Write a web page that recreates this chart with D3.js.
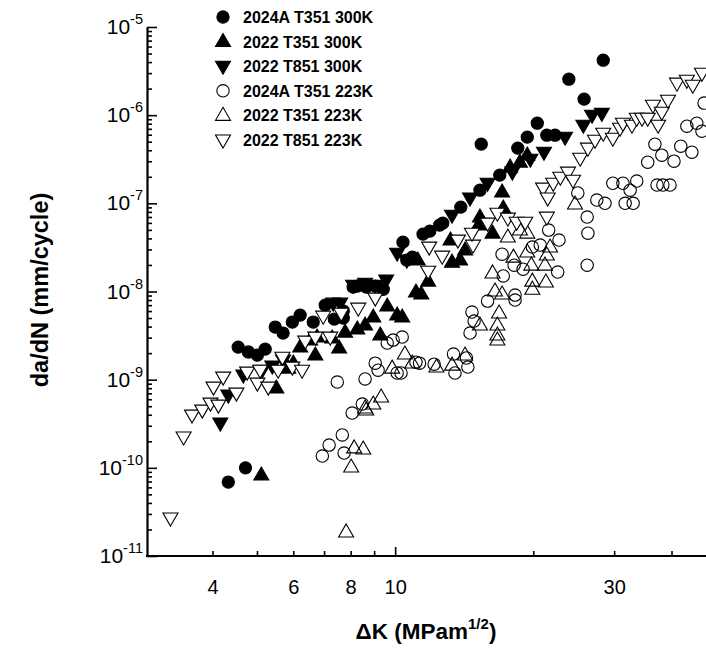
<!DOCTYPE html>
<html>
<head>
<meta charset="utf-8">
<script src="https://cdn.jsdelivr.net/npm/d3@7"></script>
<style>
  html, body { margin: 0; padding: 0; background: #fff; }
  svg { display: block; font-family: "Liberation Sans", Arial, sans-serif; }
</style>
</head>
<body>
<svg id="chart"></svg>
<script>
// da/dN vs dK, log-log. values: [dK, da/dN]
const al2024T351_300K = [
  [4.33, 6.9e-11], [4.72, 1.0e-10], [4.55, 2.34e-9], [4.79, 2.06e-9], [5.01, 1.90e-9],
  [5.21, 2.22e-9], [5.48, 3.95e-9], [5.70, 3.38e-9], [5.97, 4.50e-9], [6.21, 5.40e-9],
  [6.63, 4.50e-9], [7.04, 7.01e-9], [7.37, 4.86e-9], [7.71, 4.99e-9], [7.71, 6.0e-9],
  [8.10, 1.12e-8], [8.27, 1.15e-8], [8.65, 1.12e-8], [9.05, 1.15e-8], [9.42, 1.06e-8],
  [10.4, 3.63e-8], [10.6, 2.27e-8], [10.9, 2.45e-8], [11.5, 4.48e-8], [11.9, 4.84e-8],
  [12.5, 5.66e-8], [12.7, 5.97e-8], [13.9, 9.06e-8], [15.3, 1.41e-7], [16.9, 2.09e-7],
  [18.5, 4.23e-7], [19.4, 5.63e-7], [20.4, 8.11e-7], [21.4, 5.93e-7], [22.3, 5.93e-7],
  [15.4, 4.69e-7], [23.9, 2.56e-6], [25.8, 1.52e-6], [28.4, 4.2e-6]
];
const al2022T351_300K = [
  [5.11, 8.28e-11], [5.51, 8.03e-10], [5.85, 1.35e-9], [6.00, 1.54e-9], [6.21, 2.34e-9],
  [6.53, 2.81e-9], [6.70, 1.90e-9], [6.76, 3.04e-9], [7.29, 2.96e-9], [7.55, 2.28e-9],
  [7.78, 3.46e-9], [8.27, 3.75e-9], [8.60, 4.16e-9], [8.96, 5.13e-9], [9.28, 3.2e-9],
  [9.61, 6.83e-9], [10.1, 5.40e-9], [10.36, 5.13e-9], [11.1, 9.85e-9], [11.4, 9.35e-9],
  [11.8, 1.31e-8], [11.2, 2.27e-8], [13.2, 3.83e-8], [13.3, 2.15e-8], [13.85, 2.27e-8],
  [14.2, 2.95e-8], [15.2, 5.66e-8], [15.3, 6.98e-8], [16.3, 4.59e-8], [17.2, 8.83e-8],
  [17.1, 1.34e-7], [17.8, 2.57e-7], [19.4, 3.52e-7], [18.7, 2.93e-7]
];
const al2022T851_300K = [
  [4.16, 3.22e-10], [4.33, 6.69e-10], [4.67, 1.13e-9], [5.13, 1.28e-9], [5.40, 1.43e-9],
  [5.70, 1.67e-9], [7.33, 7.39e-9], [7.59, 7.39e-9], [8.10, 1.18e-8], [8.60, 1.24e-8],
  [9.05, 1.18e-8], [9.56, 1.35e-8], [10.1, 2.72e-8], [10.6, 2.27e-8], [13.3, 7.35e-8],
  [14.56, 1.15e-7], [15.9, 1.69e-7], [18.0, 2.26e-7], [19.7, 3.17e-7], [21.1, 3.8e-7],
  [23.45, 5.63e-7], [25.7, 7.7e-7], [26.85, 1.0e-6], [28.2, 1.05e-6]
];
const al2024T351_223K = [
  [6.94, 1.36e-10], [7.18, 1.81e-10], [7.67, 2.36e-10], [7.74, 1.47e-10], [7.48, 9.4e-10],
  [8.06, 4.18e-10], [8.48, 5.29e-10], [8.60, 1.02e-9], [9.05, 1.54e-9], [9.18, 1.28e-9],
  [9.61, 2.6e-9], [9.90, 2.81e-9], [10.36, 3.04e-9], [10.1, 1.19e-9], [10.3, 1.19e-9],
  [11.1, 1.58e-9], [11.3, 1.54e-9], [12.16, 1.50e-9], [13.4, 1.95e-9], [13.5, 1.19e-9],
  [14.3, 1.76e-9], [14.4, 1.39e-9], [14.56, 3.38e-9], [14.7, 5.84e-9], [14.86, 4.62e-9],
  [15.9, 7.78e-9], [17.1, 2.65e-8], [17.2, 1.5e-8], [18.25, 9.1e-9], [18.25, 8.0e-9],
  [18.16, 1.99e-8], [19.0, 1.79e-8], [19.9, 3.19e-8], [20.7, 3.36e-8], [21.6, 4.97e-8],
  [22.75, 3.83e-8], [22.6, 1.66e-8], [26.2, 6.98e-8], [26.3, 4.59e-8], [26.2, 1.99e-8],
  [27.5, 1.09e-7], [28.65, 1.0e-7], [31.7, 1.0e-7], [33.0, 1.0e-7], [25.0, 1.31e-7],
  [29.8, 1.69e-7], [31.35, 1.69e-7], [32.5, 1.41e-7], [33.6, 1.79e-7], [37.2, 1.61e-7],
  [38.3, 1.61e-7], [39.7, 1.61e-7], [35.5, 2.93e-7], [36.8, 4.69e-7], [38.1, 3.52e-7],
  [40.5, 3.01e-7], [41.9, 4.45e-7], [44.3, 3.8e-7], [43.2, 7.5e-7], [45.4, 8.11e-7],
  [46.6, 6.59e-7], [47.1, 1.37e-6]
];
const al2022T351_223K = [
  [7.82, 1.87e-11], [8.02, 1.02e-10], [8.14, 1.68e-10], [8.52, 1.63e-10], [8.65, 4.52e-10],
  [8.96, 5.29e-10], [9.32, 6.35e-10], [8.60, 4.76e-10], [9.85, 1.35e-9], [10.5, 1.95e-9],
  [10.9, 1.54e-9], [12.3, 1.39e-9], [13.3, 1.46e-9], [14.2, 1.90e-9], [15.3, 4.16e-9],
  [16.7, 4.16e-9], [16.7, 3.2e-9], [16.7, 2.81e-9], [16.84, 5.69e-9], [16.5, 1.01e-8],
  [17.1, 9.35e-9], [16.3, 1.62e-8], [17.6, 4.14e-8], [18.1, 2.45e-8], [19.4, 2.8e-8],
  [19.4, 4.59e-8], [19.8, 1.99e-8], [19.9, 1.31e-8], [19.9, 1.06e-8], [21.2, 1.99e-8],
  [21.3, 1.28e-8], [21.4, 2.59e-8], [21.75, 3.19e-8], [18.7, 4.97e-8], [24.65, 9.8e-8]
];
const al2022T851_223K = [
  [3.24, 2.7e-11], [3.46, 2.24e-10], [3.61, 3.97e-10], [3.80, 4.52e-10], [3.96, 5.43e-10],
  [4.12, 5.15e-10], [4.02, 8.24e-10], [4.22, 1.07e-9], [4.51, 7.05e-10], [4.76, 1.22e-9],
  [5.01, 9.15e-10], [5.29, 8.24e-10], [5.08, 1.28e-9], [5.56, 1.28e-9], [5.68, 1.80e-9],
  [5.97, 1.39e-9], [6.27, 1.28e-9], [6.37, 2.74e-9], [6.70, 3.04e-9], [7.22, 3.04e-9],
  [6.97, 5.26e-9], [7.63, 5.69e-9], [8.31, 6.48e-9], [9.05, 8.42e-9], [11.86, 3.19e-8],
  [11.8, 1.70e-8], [12.66, 2.52e-8], [13.7, 3.83e-8], [14.78, 3.36e-8], [14.7, 4.59e-8],
  [15.9, 5.97e-8], [16.7, 7.74e-8], [17.6, 6.8e-8], [18.4, 6.12e-8], [19.2, 6.12e-8],
  [21.4, 6.98e-8], [21.0, 1.49e-7], [21.5, 1.15e-7], [22.1, 1.69e-7], [22.9, 1.98e-7],
  [23.8, 2.26e-7], [24.4, 1.83e-7], [25.3, 3.25e-7], [26.3, 4.23e-7], [27.25, 5.21e-7],
  [28.4, 6.25e-7], [29.8, 5.49e-7], [30.9, 7.12e-7], [31.35, 8.11e-7], [32.8, 7.7e-7],
  [33.6, 9.25e-7], [34.5, 9.25e-7], [35.5, 9.25e-7], [36.45, 1.30e-6], [37.4, 7.7e-7],
  [38.1, 1.08e-6], [39.3, 1.48e-6], [41.1, 2.31e-6], [43.2, 2.49e-6], [44.5, 2.19e-6],
  [46.6, 2.99e-6]
];

const seriesNames = ["2024A T351 300K", "2022 T351 300K", "2022 T851 300K",
                     "2024A T351 223K", "2022 T351 223K", "2022 T851 223K"];
const xTicks = [4, 5, 6, 7, 8, 9, 10, 20, 30, 40];
const xTickLabels = [4, 6, 8, 10, 30];
const yTickExps = [-11, -10, -9, -8, -7, -6, -5];

(function () {
  const W = 706, H = 652;
  const FONT = '"Liberation Sans", Arial, sans-serif';

  const svg = d3.select("#chart").attr("width", W).attr("height", H);

  // the source plot is cut off on the right, so the range runs past W
  const x = d3.scaleLog().domain([2.88, 50]).range([147, 716]);
  const y = d3.scaleLog().domain([1e-11, 1e-5]).range([556, 27]);

  // marker shapes
  const tri = (w, h, up) => up
    ? `M0,${-h * 0.62}L${w / 2},${h * 0.38}L${-w / 2},${h * 0.38}Z`
    : `M0,${h * 0.62}L${w / 2},${-h * 0.38}L${-w / 2},${-h * 0.38}Z`;
  const circ = r => `M${r},0A${r},${r} 0 1,1 ${-r},0A${r},${r} 0 1,1 ${r},0Z`;

  const styles = [
    { d: circ(6.1), fill: "#000" },
    { d: tri(15, 13, true), fill: "#000" },
    { d: tri(15, 13, false), fill: "#000" },
    { d: circ(6.2), fill: "none" },
    { d: tri(15, 13, true), fill: "none" },
    { d: tri(15, 13, false), fill: "#fff" }
  ];
  const allSeries = [al2024T351_300K, al2022T351_300K, al2022T851_300K,
                     al2024T351_223K, al2022T351_223K, al2022T851_223K];

  // ---- points ----
  allSeries.forEach((data, i) => {
    const st = styles[i];
    svg.append("g").selectAll("path")
      .data(data).join("path")
      .attr("transform", d => `translate(${x(d[0])},${y(d[1])})`)
      .attr("d", st.d)
      .attr("fill", st.fill)
      .attr("stroke", "#000")
      .attr("stroke-width", 1.1);
  });

  // ---- x axis (ticks point inward) ----
  const xAx = svg.append("g")
    .attr("transform", `translate(0,${y.range()[0]})`)
    .call(d3.axisBottom(x)
      .tickValues(xTicks)
      .tickSize(-5)
      .tickSizeOuter(0)
      .tickPadding(24)
      .tickFormat(d => xTickLabels.includes(d) ? d : ""));
  xAx.select(".domain").attr("stroke-width", 2.2)
    .attr("d", `M${x.range()[0] - 1},0H${W}`);
  xAx.selectAll(".tick line").attr("stroke-width", 1.6)
    .filter(d => d === 10).attr("y2", -9);
  xAx.selectAll(".tick text")
    .attr("font-size", 20).attr("font-family", FONT).attr("fill", "#000");

  // ---- y axis ----
  const yAx = svg.append("g")
    .attr("transform", `translate(${x.range()[0]},0)`)
    .call(d3.axisLeft(y)
      .tickValues(y.ticks())
      .tickSize(-5)
      .tickSizeOuter(0)
      .tickFormat(""));
  yAx.select(".domain").attr("stroke-width", 2.2);
  yAx.selectAll(".tick line").attr("stroke-width", 1.6)
    .filter(d => Math.abs(Math.log10(d) - Math.round(Math.log10(d))) < 1e-6)
    .attr("x2", 10);

  yTickExps.forEach(e => {
    const t = svg.append("text")
      .attr("x", 143).attr("y", y(Math.pow(10, e)) + 7)
      .attr("text-anchor", "end")
      .attr("font-family", FONT).attr("font-size", 21);
    t.append("tspan").text("10");
    t.append("tspan").attr("dy", -10).attr("font-size", 14.5).text(String(e));
  });

  // ---- axis titles ----
  const xt = svg.append("text")
    .attr("x", 426).attr("y", 639)
    .attr("text-anchor", "middle")
    .attr("font-family", FONT).attr("font-size", 22.5).attr("font-weight", 700);
  xt.append("tspan").text("\u0394K (MPam");
  xt.append("tspan").attr("dy", -10).attr("font-size", 15).text("1/2");
  xt.append("tspan").attr("dy", 10).text(")");

  svg.append("text")
    .attr("transform", "translate(48,290) rotate(-90)")
    .attr("text-anchor", "middle")
    .attr("font-family", FONT).attr("font-size", 23.5).attr("font-weight", 700)
    .text("da/dN (mm/cycle)");

  // ---- legend ----
  seriesNames.forEach((name, i) => {
    const ly = 17 + i * 24.6;
    const st = styles[i];
    svg.append("path")
      .attr("transform", `translate(223,${ly})`)
      .attr("d", st.d)
      .attr("fill", st.fill === "none" ? "#fff" : st.fill)
      .attr("stroke", "#000").attr("stroke-width", 1.1);
    svg.append("text")
      .attr("x", 243).attr("y", ly + 6)
      .attr("font-family", FONT).attr("font-size", 16).attr("font-weight", 700)
      .text(name);
  });
})();
</script>
</body>
</html>
